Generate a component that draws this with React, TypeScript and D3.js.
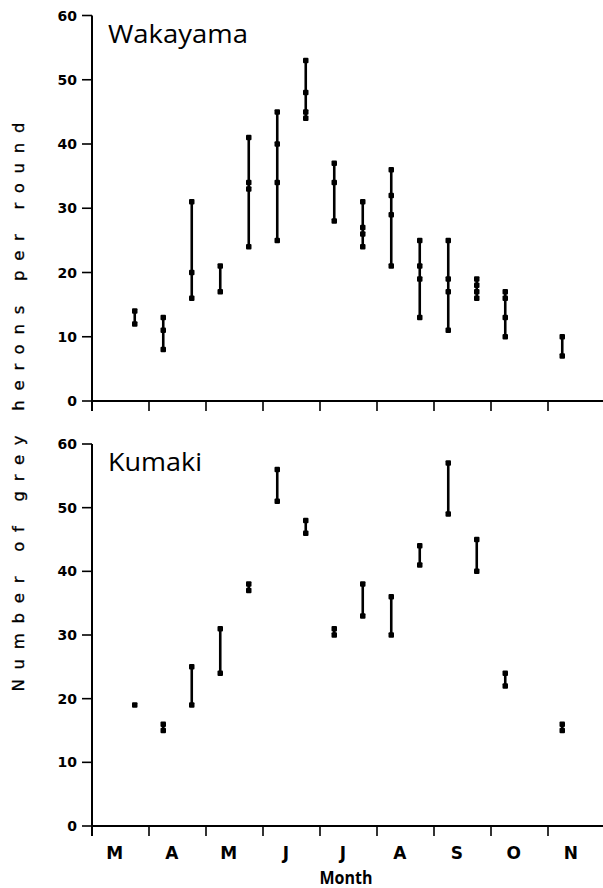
import React from "react";
import * as d3 from "d3";

const monthLabels = ["M", "A", "M", "J", "J", "A", "S", "O", "N"];
const yTicks = [0, 10, 20, 30, 40, 50, 60];

// survey positions in months since 1 March
const wakayamaPositions = [0.75, 1.25, 1.75, 2.25, 2.75, 3.25, 3.75, 4.25, 4.75, 5.25, 5.75, 6.25, 6.75, 7.25, 8.25];
const wakayamaCounts = [
  [12, 14],
  [8, 11, 13],
  [16, 20, 31],
  [17, 21],
  [24, 33, 34, 41],
  [25, 34, 40, 45],
  [44, 45, 48, 53],
  [28, 34, 37],
  [24, 26, 27, 31],
  [21, 29, 32, 36],
  [13, 19, 21, 25],
  [11, 17, 19, 25],
  [16, 17, 18, 19],
  [10, 13, 16, 17],
  [7, 10],
];

const kumakiPositions = [0.75, 1.25, 1.75, 2.25, 2.75, 3.25, 3.75, 4.25, 4.75, 5.25, 5.75, 6.25, 6.75, 7.25, 8.25];
const kumakiCounts = [
  [19],
  [15, 16],
  [19, 25],
  [24, 31],
  [37, 38],
  [51, 56],
  [46, 48],
  [30, 31],
  [33, 38],
  [30, 36],
  [41, 44],
  [49, 57],
  [40, 45],
  [22, 24],
  [15, 16],
];

const W = 603;
const H = 888;
const x = d3.scaleLinear().domain([0, 9]).range([92, 605]);

type PanelProps = {
  title: string;
  titleWidth: number;
  positions: number[];
  counts: number[][];
  top: number;
  bottom: number;
  titleY: number;
  showLabels: boolean;
};

function Panel({ title, titleWidth, positions, counts, top, bottom, titleY, showLabels }: PanelProps) {
  const y = d3.scaleLinear().domain([0, 60]).range([bottom, top]);
  const x0 = x(0);
  const ms = 5.5;
  return (
    <g>
      <line x1={x0} x2={x0} y1={y(60)} y2={y(0) + 10} stroke="#000" strokeWidth={2} />
      <line x1={x0} x2={W} y1={y(0)} y2={y(0)} stroke="#000" strokeWidth={2} />
      {yTicks.map((t) => (
        <g key={t}>
          <line x1={x0 - 10} x2={x0} y1={y(t)} y2={y(t)} stroke="#000" strokeWidth={1.6} />
          <text
            x={x0 - 15}
            y={y(t)}
            dy="0.36em"
            textAnchor="end"
            fontFamily="DejaVu Sans"
            fontWeight="bold"
            fontSize={14}
          >
            {t}
          </text>
        </g>
      ))}
      {d3.range(1, 10).map((m) => (
        <line key={m} x1={x(m)} x2={x(m)} y1={y(0)} y2={y(0) + 10} stroke="#000" strokeWidth={1.6} />
      ))}
      {showLabels &&
        monthLabels.map((lab, i) => (
          <text
            key={i}
            x={x(i + 0.4)}
            y={y(0) + 33}
            textAnchor="middle"
            fontFamily="DejaVu Sans"
            fontWeight="bold"
            fontSize={17}
          >
            {lab}
          </text>
        ))}
      <text
        x={108}
        y={titleY}
        fontFamily="Open Sans"
        fontSize={26}
        textLength={titleWidth}
        lengthAdjust="spacingAndGlyphs"
      >
        {title}
      </text>
      {positions.map((p, i) => {
        const vals = counts[i];
        const cx = x(p);
        const lo = d3.min(vals) as number;
        const hi = d3.max(vals) as number;
        return (
          <g key={i}>
            {hi > lo && <line x1={cx} x2={cx} y1={y(lo)} y2={y(hi)} stroke="#000" strokeWidth={2.6} />}
            {vals.map((v, j) => (
              <rect key={j} x={cx - ms / 2} y={y(v) - ms / 2} width={ms} height={ms} rx={1} fill="#000" />
            ))}
          </g>
        );
      })}
    </g>
  );
}

export default function App() {
  return (
    <svg
      width={W}
      height={H}
      viewBox={`0 0 ${W} ${H}`}
      style={{ position: "absolute", left: 0, top: 0, background: "#fff" }}
    >
      <rect width={W} height={H} fill="#fff" />
      <Panel
        title="Wakayama"
        titleWidth={140}
        positions={wakayamaPositions}
        counts={wakayamaCounts}
        top={15.5}
        bottom={401}
        titleY={43}
        showLabels={false}
      />
      <Panel
        title="Kumaki"
        titleWidth={94}
        positions={kumakiPositions}
        counts={kumakiCounts}
        top={444}
        bottom={826}
        titleY={471}
        showLabels={true}
      />
      <text
        transform={`translate(24, 407) rotate(-90)`}
        textAnchor="middle"
        fontFamily="DejaVu Sans"
        fontSize={16.5}
        stroke="#000"
        strokeWidth={0.3}
        textLength={569}
        lengthAdjust="spacing"
      >
        Number of grey herons per round
      </text>
      <text
        x={346}
        y={884}
        textAnchor="middle"
        fontFamily="Open Sans"
        fontWeight="bold"
        fontSize={17}
        textLength={53}
        lengthAdjust="spacingAndGlyphs"
      >
        Month
      </text>
    </svg>
  );
}
